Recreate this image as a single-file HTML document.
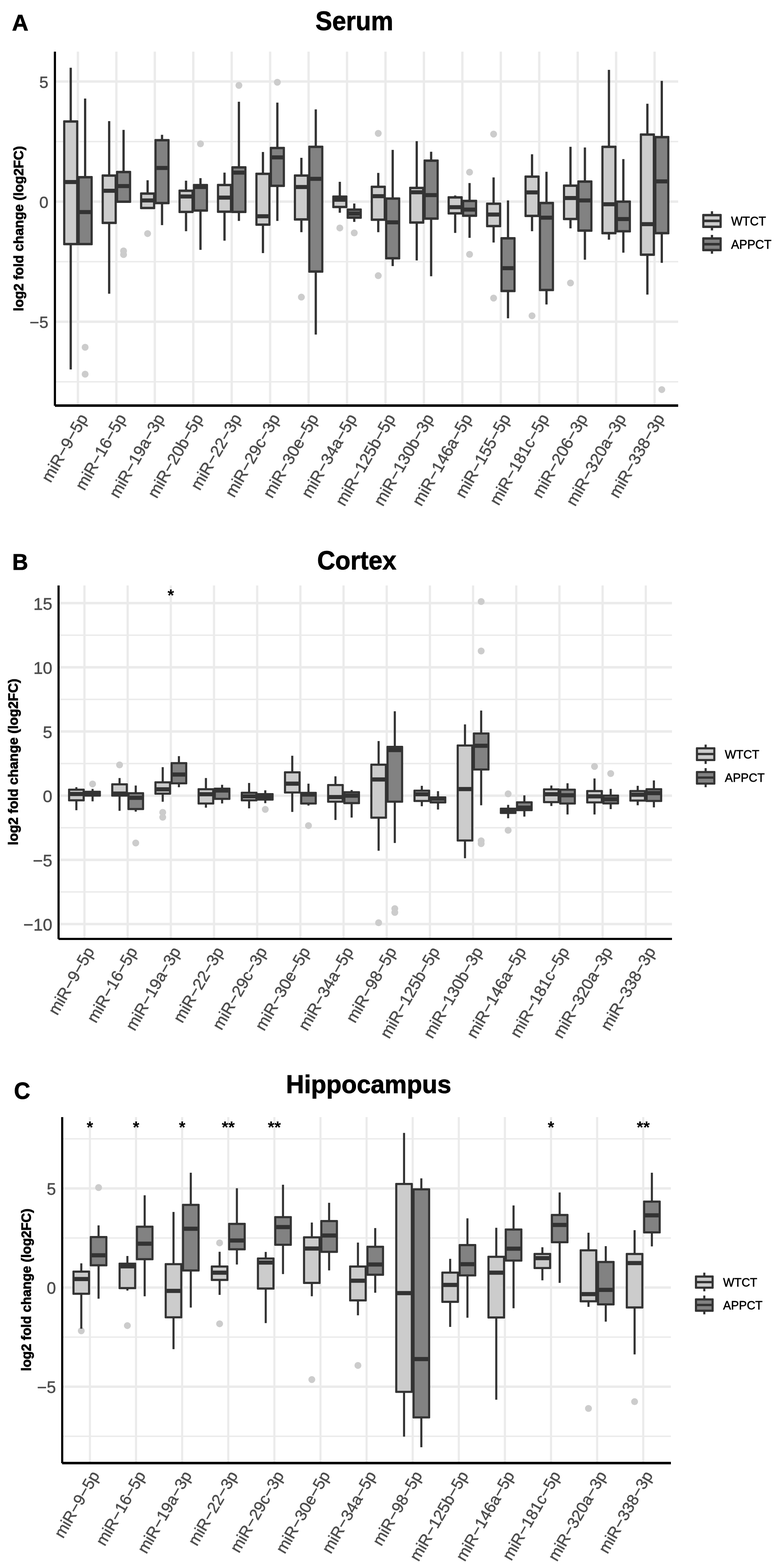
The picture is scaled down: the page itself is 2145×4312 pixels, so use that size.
<!DOCTYPE html>
<html><head><meta charset="utf-8"><title>miRNA log2 fold change box plots</title>
<style>html,body{margin:0;padding:0;background:#fff;width:2145px;height:4312px;}svg{display:block;}</style></head>
<body>
<svg width="2145" height="4312" viewBox="0 0 2145 4312" font-family='"Liberation Sans", Arial, Helvetica, sans-serif'>
<rect width="2145" height="4312" fill="#fff"/>
<g fill="#ebebeb"><rect x="154" y="387.4" width="1711" height="3.9"/><rect x="154" y="717.7" width="1711" height="3.9"/><rect x="154" y="1048" width="1711" height="3.9"/><rect x="154" y="220.8" width="1711" height="6.7"/><rect x="154" y="551.1" width="1711" height="6.7"/><rect x="154" y="881.4" width="1711" height="6.7"/><rect x="211.1" y="142" width="6.4" height="973.3"/><rect x="316.8" y="142" width="6.4" height="973.3"/><rect x="422.5" y="142" width="6.4" height="973.3"/><rect x="528.3" y="142" width="6.4" height="973.3"/><rect x="634" y="142" width="6.4" height="973.3"/><rect x="739.7" y="142" width="6.4" height="973.3"/><rect x="845.4" y="142" width="6.4" height="973.3"/><rect x="951.1" y="142" width="6.4" height="973.3"/><rect x="1056.9" y="142" width="6.4" height="973.3"/><rect x="1162.6" y="142" width="6.4" height="973.3"/><rect x="1268.3" y="142" width="6.4" height="973.3"/><rect x="1374" y="142" width="6.4" height="973.3"/><rect x="1479.7" y="142" width="6.4" height="973.3"/><rect x="1585.5" y="142" width="6.4" height="973.3"/><rect x="1691.2" y="142" width="6.4" height="973.3"/><rect x="1796.9" y="142" width="6.4" height="973.3"/></g>
<circle cx="234.1" cy="955" r="9.5" fill="#cccccc"/>
<circle cx="234.1" cy="1029" r="9.5" fill="#cccccc"/>
<rect x="191.4" y="186.3" width="6.2" height="147.8" fill="#333333"/>
<rect x="191.4" y="671.2" width="6.2" height="344.8" fill="#333333"/>
<rect x="173.6" y="330.8" width="41.7" height="343.7" rx="2" fill="#333333"/>
<rect x="179.6" y="337.4" width="29.7" height="330.5" fill="#cccccc"/>
<rect x="176.6" y="495" width="35.7" height="11.2" fill="#333333"/>
<rect x="231" y="271" width="6.2" height="216.4" fill="#333333"/>
<rect x="213.3" y="484.1" width="41.7" height="190.4" rx="2" fill="#333333"/>
<rect x="219.3" y="490.7" width="29.7" height="177.2" fill="#828282"/>
<rect x="216.3" y="577.6" width="35.7" height="11.2" fill="#333333"/>
<circle cx="339.8" cy="690" r="9.5" fill="#cccccc"/>
<circle cx="339.8" cy="700" r="9.5" fill="#cccccc"/>
<rect x="297.1" y="333.1" width="6.2" height="149.7" fill="#333333"/>
<rect x="297.1" y="612.9" width="6.2" height="194.8" fill="#333333"/>
<rect x="279.4" y="479.5" width="41.7" height="136.7" rx="2" fill="#333333"/>
<rect x="285.4" y="486.1" width="29.7" height="123.5" fill="#cccccc"/>
<rect x="282.4" y="519" width="35.7" height="11.2" fill="#333333"/>
<rect x="336.7" y="357.2" width="6.2" height="115.9" fill="#333333"/>
<rect x="319" y="469.8" width="41.7" height="88.2" rx="2" fill="#333333"/>
<rect x="325" y="476.4" width="29.7" height="75" fill="#828282"/>
<rect x="322" y="506.1" width="35.7" height="11.2" fill="#333333"/>
<circle cx="405.9" cy="642.4" r="9.5" fill="#cccccc"/>
<rect x="402.8" y="495.7" width="6.2" height="36.7" fill="#333333"/>
<rect x="385.1" y="529.1" width="41.7" height="46.2" rx="2" fill="#333333"/>
<rect x="391.1" y="535.7" width="29.7" height="33" fill="#cccccc"/>
<rect x="388.1" y="545.6" width="35.7" height="11.2" fill="#333333"/>
<rect x="442.5" y="370.7" width="6.2" height="14.9" fill="#333333"/>
<rect x="442.5" y="558.4" width="6.2" height="60.7" fill="#333333"/>
<rect x="424.7" y="382.3" width="41.7" height="179.4" rx="2" fill="#333333"/>
<rect x="430.7" y="388.9" width="29.7" height="166.2" fill="#828282"/>
<rect x="427.7" y="456.3" width="35.7" height="11.2" fill="#333333"/>
<circle cx="551.3" cy="395.5" r="9.5" fill="#cccccc"/>
<rect x="508.5" y="496.9" width="6.2" height="27.7" fill="#333333"/>
<rect x="508.5" y="582.8" width="6.2" height="53" fill="#333333"/>
<rect x="490.8" y="521.3" width="41.7" height="64.8" rx="2" fill="#333333"/>
<rect x="496.8" y="527.9" width="29.7" height="51.6" fill="#cccccc"/>
<rect x="493.8" y="534.7" width="35.7" height="11.2" fill="#333333"/>
<rect x="548.2" y="489.9" width="6.2" height="19.2" fill="#333333"/>
<rect x="548.2" y="579" width="6.2" height="108.1" fill="#333333"/>
<rect x="530.4" y="505.8" width="41.7" height="76.5" rx="2" fill="#333333"/>
<rect x="536.4" y="512.4" width="29.7" height="63.3" fill="#828282"/>
<rect x="533.4" y="508.7" width="35.7" height="11.2" fill="#333333"/>
<circle cx="657" cy="234.8" r="9.5" fill="#cccccc"/>
<rect x="614.3" y="474.7" width="6.2" height="34" fill="#333333"/>
<rect x="614.3" y="582.1" width="6.2" height="79.7" fill="#333333"/>
<rect x="596.5" y="505.4" width="41.7" height="80" rx="2" fill="#333333"/>
<rect x="602.5" y="512" width="29.7" height="66.8" fill="#cccccc"/>
<rect x="599.5" y="537.8" width="35.7" height="11.2" fill="#333333"/>
<rect x="653.9" y="279.8" width="6.2" height="180.4" fill="#333333"/>
<rect x="653.9" y="582.8" width="6.2" height="24.7" fill="#333333"/>
<rect x="636.2" y="456.9" width="41.7" height="129.2" rx="2" fill="#333333"/>
<rect x="642.2" y="463.5" width="29.7" height="116" fill="#828282"/>
<rect x="639.2" y="469.1" width="35.7" height="11.2" fill="#333333"/>
<circle cx="762.7" cy="226.3" r="9.5" fill="#cccccc"/>
<rect x="720" y="418" width="6.2" height="60" fill="#333333"/>
<rect x="720" y="617.8" width="6.2" height="78.2" fill="#333333"/>
<rect x="702.2" y="474.7" width="41.7" height="146.4" rx="2" fill="#333333"/>
<rect x="708.2" y="481.3" width="29.7" height="133.2" fill="#cccccc"/>
<rect x="705.2" y="589.1" width="35.7" height="11.2" fill="#333333"/>
<rect x="759.6" y="282.2" width="6.2" height="124.8" fill="#333333"/>
<rect x="759.6" y="511" width="6.2" height="96.5" fill="#333333"/>
<rect x="741.9" y="403.7" width="41.7" height="110.6" rx="2" fill="#333333"/>
<rect x="747.9" y="410.3" width="29.7" height="97.4" fill="#828282"/>
<rect x="744.9" y="427.2" width="35.7" height="11.2" fill="#333333"/>
<circle cx="828.8" cy="817.1" r="9.5" fill="#cccccc"/>
<rect x="825.7" y="434" width="6.2" height="48.7" fill="#333333"/>
<rect x="825.7" y="603.4" width="6.2" height="35.1" fill="#333333"/>
<rect x="808" y="479.4" width="41.7" height="127.3" rx="2" fill="#333333"/>
<rect x="814" y="486" width="29.7" height="114.1" fill="#cccccc"/>
<rect x="811" y="508.7" width="35.7" height="11.2" fill="#333333"/>
<rect x="865.3" y="300.8" width="6.2" height="103.1" fill="#333333"/>
<rect x="865.3" y="746.7" width="6.2" height="173.3" fill="#333333"/>
<rect x="847.6" y="400.6" width="41.7" height="349.4" rx="2" fill="#333333"/>
<rect x="853.6" y="407.2" width="29.7" height="336.2" fill="#828282"/>
<rect x="850.6" y="486.2" width="35.7" height="11.2" fill="#333333"/>
<circle cx="934.5" cy="626.9" r="9.5" fill="#cccccc"/>
<circle cx="974.2" cy="640.5" r="9.5" fill="#cccccc"/>
<rect x="931.4" y="500" width="6.2" height="40.9" fill="#333333"/>
<rect x="931.4" y="569.2" width="6.2" height="15.8" fill="#333333"/>
<rect x="913.7" y="537.6" width="41.7" height="34.9" rx="2" fill="#333333"/>
<rect x="919.7" y="544.2" width="29.7" height="21.7" fill="#cccccc"/>
<rect x="916.7" y="543.7" width="35.7" height="11.2" fill="#333333"/>
<rect x="971.1" y="559.7" width="6.2" height="16.9" fill="#333333"/>
<rect x="971.1" y="598.4" width="6.2" height="11.8" fill="#333333"/>
<rect x="953.3" y="573.3" width="41.7" height="28.4" rx="2" fill="#333333"/>
<rect x="959.3" y="579.9" width="29.7" height="15.2" fill="#828282"/>
<rect x="956.3" y="581.7" width="35.7" height="11.2" fill="#333333"/>
<circle cx="1040.2" cy="366.8" r="9.5" fill="#cccccc"/>
<circle cx="1040.2" cy="758.1" r="9.5" fill="#cccccc"/>
<rect x="1037.1" y="475.5" width="6.2" height="38.2" fill="#333333"/>
<rect x="1037.1" y="604.2" width="6.2" height="34.3" fill="#333333"/>
<rect x="1019.4" y="510.4" width="41.7" height="97.1" rx="2" fill="#333333"/>
<rect x="1025.4" y="517" width="29.7" height="83.9" fill="#cccccc"/>
<rect x="1022.4" y="533.9" width="35.7" height="11.2" fill="#333333"/>
<rect x="1076.8" y="412.2" width="6.2" height="133.8" fill="#333333"/>
<rect x="1076.8" y="710.2" width="6.2" height="21.5" fill="#333333"/>
<rect x="1059" y="542.7" width="41.7" height="170.8" rx="2" fill="#333333"/>
<rect x="1065" y="549.3" width="29.7" height="157.6" fill="#828282"/>
<rect x="1062" y="605.8" width="35.7" height="11.2" fill="#333333"/>
<rect x="1142.9" y="388.2" width="6.2" height="128.6" fill="#333333"/>
<rect x="1142.9" y="611.9" width="6.2" height="104.3" fill="#333333"/>
<rect x="1125.1" y="513.5" width="41.7" height="101.7" rx="2" fill="#333333"/>
<rect x="1131.1" y="520.1" width="29.7" height="88.5" fill="#cccccc"/>
<rect x="1128.1" y="523.1" width="35.7" height="11.2" fill="#333333"/>
<rect x="1182.5" y="417.3" width="6.2" height="24.6" fill="#333333"/>
<rect x="1182.5" y="601.1" width="6.2" height="158.6" fill="#333333"/>
<rect x="1164.8" y="438.6" width="41.7" height="165.8" rx="2" fill="#333333"/>
<rect x="1170.8" y="445.2" width="29.7" height="152.6" fill="#828282"/>
<rect x="1167.8" y="530.9" width="35.7" height="11.2" fill="#333333"/>
<circle cx="1291.3" cy="473.6" r="9.5" fill="#cccccc"/>
<circle cx="1291.3" cy="699.5" r="9.5" fill="#cccccc"/>
<rect x="1248.6" y="537.6" width="6.2" height="5.3" fill="#333333"/>
<rect x="1248.6" y="586.7" width="6.2" height="53.8" fill="#333333"/>
<rect x="1230.8" y="539.6" width="41.7" height="50.4" rx="2" fill="#333333"/>
<rect x="1236.8" y="546.2" width="29.7" height="37.2" fill="#cccccc"/>
<rect x="1233.8" y="564.2" width="35.7" height="11.2" fill="#333333"/>
<rect x="1288.2" y="503.4" width="6.2" height="49.2" fill="#333333"/>
<rect x="1288.2" y="593.3" width="6.2" height="60.7" fill="#333333"/>
<rect x="1270.5" y="549.3" width="41.7" height="47.3" rx="2" fill="#333333"/>
<rect x="1276.5" y="555.9" width="29.7" height="34.1" fill="#828282"/>
<rect x="1273.5" y="570.8" width="35.7" height="11.2" fill="#333333"/>
<circle cx="1357.4" cy="368.7" r="9.5" fill="#cccccc"/>
<circle cx="1357.4" cy="819.8" r="9.5" fill="#cccccc"/>
<rect x="1354.3" y="487.9" width="6.2" height="72.4" fill="#333333"/>
<rect x="1354.3" y="621.7" width="6.2" height="45.2" fill="#333333"/>
<rect x="1336.6" y="557" width="41.7" height="68" rx="2" fill="#333333"/>
<rect x="1342.6" y="563.6" width="29.7" height="54.8" fill="#cccccc"/>
<rect x="1339.6" y="584.4" width="35.7" height="11.2" fill="#333333"/>
<rect x="1393.9" y="551.2" width="6.2" height="104.2" fill="#333333"/>
<rect x="1393.9" y="800.2" width="6.2" height="75.1" fill="#333333"/>
<rect x="1376.2" y="652.1" width="41.7" height="151.4" rx="2" fill="#333333"/>
<rect x="1382.2" y="658.7" width="29.7" height="138.2" fill="#828282"/>
<rect x="1379.2" y="731.9" width="35.7" height="11.2" fill="#333333"/>
<circle cx="1463.1" cy="868.4" r="9.5" fill="#cccccc"/>
<rect x="1460" y="424.3" width="6.2" height="61.5" fill="#333333"/>
<rect x="1460" y="593.7" width="6.2" height="42.1" fill="#333333"/>
<rect x="1442.3" y="482.5" width="41.7" height="114.5" rx="2" fill="#333333"/>
<rect x="1448.3" y="489.1" width="29.7" height="101.3" fill="#cccccc"/>
<rect x="1445.3" y="523.5" width="35.7" height="11.2" fill="#333333"/>
<rect x="1499.7" y="472.4" width="6.2" height="86" fill="#333333"/>
<rect x="1499.7" y="797.5" width="6.2" height="39.8" fill="#333333"/>
<rect x="1481.9" y="555.1" width="41.7" height="245.7" rx="2" fill="#333333"/>
<rect x="1487.9" y="561.7" width="29.7" height="232.5" fill="#828282"/>
<rect x="1484.9" y="593" width="35.7" height="11.2" fill="#333333"/>
<circle cx="1568.8" cy="778.3" r="9.5" fill="#cccccc"/>
<rect x="1565.7" y="403.7" width="6.2" height="106.9" fill="#333333"/>
<rect x="1565.7" y="602.2" width="6.2" height="25.8" fill="#333333"/>
<rect x="1548" y="507.3" width="41.7" height="98.2" rx="2" fill="#333333"/>
<rect x="1554" y="513.9" width="29.7" height="85" fill="#cccccc"/>
<rect x="1551" y="539" width="35.7" height="11.2" fill="#333333"/>
<rect x="1605.4" y="405.6" width="6.2" height="93.8" fill="#333333"/>
<rect x="1605.4" y="634.1" width="6.2" height="80.1" fill="#333333"/>
<rect x="1587.6" y="496.1" width="41.7" height="141.3" rx="2" fill="#333333"/>
<rect x="1593.6" y="502.7" width="29.7" height="128.1" fill="#828282"/>
<rect x="1590.6" y="545.6" width="35.7" height="11.2" fill="#333333"/>
<rect x="1671.5" y="192.1" width="6.2" height="211.8" fill="#333333"/>
<rect x="1671.5" y="641.1" width="6.2" height="18" fill="#333333"/>
<rect x="1653.7" y="400.6" width="41.7" height="243.8" rx="2" fill="#333333"/>
<rect x="1659.7" y="407.2" width="29.7" height="230.6" fill="#cccccc"/>
<rect x="1656.7" y="556.1" width="35.7" height="11.2" fill="#333333"/>
<rect x="1711.1" y="437.5" width="6.2" height="117" fill="#333333"/>
<rect x="1711.1" y="636" width="6.2" height="58.8" fill="#333333"/>
<rect x="1693.4" y="551.2" width="41.7" height="88.1" rx="2" fill="#333333"/>
<rect x="1699.4" y="557.8" width="29.7" height="74.9" fill="#828282"/>
<rect x="1696.4" y="596.8" width="35.7" height="11.2" fill="#333333"/>
<circle cx="1819.9" cy="1071.4" r="9.5" fill="#cccccc"/>
<rect x="1777.2" y="285.3" width="6.2" height="84.8" fill="#333333"/>
<rect x="1777.2" y="700.4" width="6.2" height="109.7" fill="#333333"/>
<rect x="1759.4" y="366.8" width="41.7" height="336.9" rx="2" fill="#333333"/>
<rect x="1765.4" y="373.4" width="29.7" height="323.7" fill="#cccccc"/>
<rect x="1762.4" y="610.8" width="35.7" height="11.2" fill="#333333"/>
<rect x="1816.8" y="222.4" width="6.2" height="154.7" fill="#333333"/>
<rect x="1816.8" y="641.1" width="6.2" height="81.7" fill="#333333"/>
<rect x="1799.1" y="373.8" width="41.7" height="270.6" rx="2" fill="#333333"/>
<rect x="1805.1" y="380.4" width="29.7" height="257.4" fill="#828282"/>
<rect x="1802.1" y="493.2" width="35.7" height="11.2" fill="#333333"/>
<rect x="148" y="142" width="6" height="973.8" fill="#000"/>
<rect x="151" y="1111.9" width="1714" height="6.9" fill="#000"/>
<g fill="#4d4d4d" stroke="#4d4d4d" stroke-width="0.8" font-size="45.1" text-anchor="end"><text x="133" y="241.8">5</text><text x="133" y="572.1">0</text><text x="133" y="902.4">−5</text></g>
<g fill="#4d4d4d" stroke="#4d4d4d" stroke-width="0.8" font-size="45" text-anchor="end"><text transform="translate(242.7 1149.6) rotate(-60)">miR−9−5p</text><text transform="translate(348.4 1149.6) rotate(-60)">miR−16−5p</text><text transform="translate(454.1 1149.6) rotate(-60)">miR−19a−3p</text><text transform="translate(559.9 1149.6) rotate(-60)">miR−20b−5p</text><text transform="translate(665.6 1149.6) rotate(-60)">miR−22−3p</text><text transform="translate(771.3 1149.6) rotate(-60)">miR−29c−3p</text><text transform="translate(877 1149.6) rotate(-60)">miR−30e−5p</text><text transform="translate(982.7 1149.6) rotate(-60)">miR−34a−5p</text><text transform="translate(1088.5 1149.6) rotate(-60)">miR−125b−5p</text><text transform="translate(1194.2 1149.6) rotate(-60)">miR−130b−3p</text><text transform="translate(1299.9 1149.6) rotate(-60)">miR−146a−5p</text><text transform="translate(1405.6 1149.6) rotate(-60)">miR−155−5p</text><text transform="translate(1511.3 1149.6) rotate(-60)">miR−181c−5p</text><text transform="translate(1617.1 1149.6) rotate(-60)">miR−206−3p</text><text transform="translate(1722.8 1149.6) rotate(-60)">miR−320a−3p</text><text transform="translate(1828.5 1149.6) rotate(-60)">miR−338−3p</text></g>
<rect x="1954.8" y="581" width="6.2" height="10.6" fill="#333333"/>
<rect x="1954.8" y="623.7" width="6.2" height="9.9" fill="#333333"/>
<rect x="1931.1" y="588.3" width="53.6" height="38.7" rx="2" fill="#333333"/>
<rect x="1937.1" y="594.9" width="41.6" height="25.5" fill="#cccccc"/>
<rect x="1934.1" y="603.9" width="47.6" height="7.1" fill="#333333"/>
<text transform="translate(2010.5 619.7) scale(0.965 1)" font-size="34.5" fill="#000" stroke="#000" stroke-width="0.8">WTCT</text>
<rect x="1954.8" y="646" width="6.2" height="9.7" fill="#333333"/>
<rect x="1954.8" y="687.7" width="6.2" height="10" fill="#333333"/>
<rect x="1931.1" y="652.4" width="53.6" height="38.6" rx="2" fill="#333333"/>
<rect x="1937.1" y="659" width="41.6" height="25.4" fill="#828282"/>
<rect x="1934.1" y="668" width="47.6" height="7.1" fill="#333333"/>
<text transform="translate(2010.5 683.7) scale(0.965 1)" font-size="34.5" fill="#000" stroke="#000" stroke-width="0.8">APPCT</text>
<g fill="#ebebeb"><rect x="163.9" y="1744.8" width="1684" height="4"/><rect x="163.9" y="1921.3" width="1684" height="4"/><rect x="163.9" y="2097.8" width="1684" height="4"/><rect x="163.9" y="2274.3" width="1684" height="4"/><rect x="163.9" y="2450.8" width="1684" height="4"/><rect x="163.9" y="1655.1" width="1684" height="6.9"/><rect x="163.9" y="1831.6" width="1684" height="6.9"/><rect x="163.9" y="2008.1" width="1684" height="6.9"/><rect x="163.9" y="2184.7" width="1684" height="6.9"/><rect x="163.9" y="2361.2" width="1684" height="6.9"/><rect x="163.9" y="2537.7" width="1684" height="6.9"/><rect x="229.2" y="1610" width="6.1" height="972"/><rect x="348" y="1610" width="6.1" height="972"/><rect x="466.7" y="1610" width="6.1" height="972"/><rect x="585.5" y="1610" width="6.1" height="972"/><rect x="704.2" y="1610" width="6.1" height="972"/><rect x="823" y="1610" width="6.1" height="972"/><rect x="941.7" y="1610" width="6.1" height="972"/><rect x="1060.4" y="1610" width="6.1" height="972"/><rect x="1179.2" y="1610" width="6.1" height="972"/><rect x="1297.9" y="1610" width="6.1" height="972"/><rect x="1416.6" y="1610" width="6.1" height="972"/><rect x="1535.4" y="1610" width="6.1" height="972"/><rect x="1654.1" y="1610" width="6.1" height="972"/><rect x="1772.9" y="1610" width="6.1" height="972"/></g>
<circle cx="254.6" cy="2155.9" r="9.5" fill="#cccccc"/>
<rect x="207.1" y="2164.8" width="5.8" height="6.8" fill="#333333"/>
<rect x="207.1" y="2200.8" width="5.8" height="27.3" fill="#333333"/>
<rect x="187.1" y="2168.7" width="45.9" height="35" rx="2" fill="#333333"/>
<rect x="192.9" y="2174.5" width="34.3" height="23.4" fill="#cccccc"/>
<rect x="190" y="2177.8" width="40.1" height="11.5" fill="#333333"/>
<rect x="251.7" y="2169.5" width="5.8" height="7.9" fill="#333333"/>
<rect x="251.7" y="2187.9" width="5.8" height="15.8" fill="#333333"/>
<rect x="231.6" y="2174.5" width="45.9" height="16.3" rx="2" fill="#333333"/>
<rect x="237.4" y="2180.3" width="34.3" height="4.7" fill="#828282"/>
<rect x="234.5" y="2176.6" width="40.1" height="11.5" fill="#333333"/>
<circle cx="328.8" cy="2103.5" r="9.5" fill="#cccccc"/>
<circle cx="373.3" cy="2318.2" r="9.5" fill="#cccccc"/>
<rect x="325.9" y="2139.6" width="5.8" height="17.3" fill="#333333"/>
<rect x="325.9" y="2187.9" width="5.8" height="41.8" fill="#333333"/>
<rect x="305.8" y="2154" width="45.9" height="36.8" rx="2" fill="#333333"/>
<rect x="311.6" y="2159.8" width="34.3" height="25.2" fill="#cccccc"/>
<rect x="308.7" y="2176.6" width="40.1" height="11.5" fill="#333333"/>
<rect x="370.4" y="2160.2" width="5.8" height="21.1" fill="#333333"/>
<rect x="370.4" y="2224.8" width="5.8" height="7.2" fill="#333333"/>
<rect x="350.4" y="2178.4" width="45.9" height="49.3" rx="2" fill="#333333"/>
<rect x="356.2" y="2184.2" width="34.3" height="37.7" fill="#828282"/>
<rect x="353.3" y="2188.2" width="40.1" height="11.5" fill="#333333"/>
<circle cx="447.5" cy="2233.9" r="9.5" fill="#cccccc"/>
<circle cx="447.5" cy="2247.5" r="9.5" fill="#cccccc"/>
<rect x="444.6" y="2109.7" width="5.8" height="41.7" fill="#333333"/>
<rect x="444.6" y="2182.5" width="5.8" height="22.3" fill="#333333"/>
<rect x="424.6" y="2148.5" width="45.9" height="36.9" rx="2" fill="#333333"/>
<rect x="430.4" y="2154.3" width="34.3" height="25.3" fill="#cccccc"/>
<rect x="427.5" y="2164.9" width="40.1" height="11.5" fill="#333333"/>
<rect x="489.1" y="2079.4" width="5.8" height="19.2" fill="#333333"/>
<rect x="489.1" y="2154.2" width="5.8" height="10.6" fill="#333333"/>
<rect x="469.1" y="2095.7" width="45.9" height="61.4" rx="2" fill="#333333"/>
<rect x="474.9" y="2101.5" width="34.3" height="49.8" fill="#828282"/>
<rect x="472" y="2124.2" width="40.1" height="11.5" fill="#333333"/>
<rect x="563.4" y="2139.6" width="5.8" height="30.8" fill="#333333"/>
<rect x="563.4" y="2209.7" width="5.8" height="11.4" fill="#333333"/>
<rect x="543.3" y="2167.5" width="45.9" height="45.1" rx="2" fill="#333333"/>
<rect x="549.1" y="2173.3" width="34.3" height="33.5" fill="#cccccc"/>
<rect x="546.2" y="2178.4" width="40.1" height="11.5" fill="#333333"/>
<rect x="607.9" y="2158.2" width="5.8" height="10.7" fill="#333333"/>
<rect x="607.9" y="2196.9" width="5.8" height="12.6" fill="#333333"/>
<rect x="587.8" y="2166" width="45.9" height="33.8" rx="2" fill="#333333"/>
<rect x="593.6" y="2171.8" width="34.3" height="22.2" fill="#828282"/>
<rect x="590.7" y="2168.1" width="40.1" height="11.5" fill="#333333"/>
<circle cx="729.5" cy="2225.8" r="9.5" fill="#cccccc"/>
<rect x="682.1" y="2153.2" width="5.8" height="27" fill="#333333"/>
<rect x="682.1" y="2200.8" width="5.8" height="22.2" fill="#333333"/>
<rect x="662.1" y="2177.3" width="45.9" height="26.4" rx="2" fill="#333333"/>
<rect x="667.9" y="2183.1" width="34.3" height="14.8" fill="#cccccc"/>
<rect x="665" y="2184.2" width="40.1" height="11.5" fill="#333333"/>
<rect x="726.6" y="2173.4" width="5.8" height="10.6" fill="#333333"/>
<rect x="726.6" y="2198.8" width="5.8" height="9.9" fill="#333333"/>
<rect x="706.6" y="2181.1" width="45.9" height="20.6" rx="2" fill="#333333"/>
<rect x="712.4" y="2186.9" width="34.3" height="9" fill="#828282"/>
<rect x="709.5" y="2186.2" width="40.1" height="11.5" fill="#333333"/>
<circle cx="848.3" cy="2270.4" r="9.5" fill="#cccccc"/>
<rect x="800.8" y="2078.3" width="5.8" height="45.6" fill="#333333"/>
<rect x="800.8" y="2179.4" width="5.8" height="53.4" fill="#333333"/>
<rect x="780.8" y="2121" width="45.9" height="61.3" rx="2" fill="#333333"/>
<rect x="786.6" y="2126.8" width="34.3" height="49.7" fill="#cccccc"/>
<rect x="783.7" y="2149.3" width="40.1" height="11.5" fill="#333333"/>
<rect x="845.4" y="2155.1" width="5.8" height="25.4" fill="#333333"/>
<rect x="845.4" y="2209.7" width="5.8" height="5.6" fill="#333333"/>
<rect x="825.3" y="2177.6" width="45.9" height="35" rx="2" fill="#333333"/>
<rect x="831.1" y="2183.4" width="34.3" height="23.4" fill="#828282"/>
<rect x="828.2" y="2179.2" width="40.1" height="11.5" fill="#333333"/>
<rect x="919.6" y="2134.9" width="5.8" height="23.9" fill="#333333"/>
<rect x="919.6" y="2204.6" width="5.8" height="50.3" fill="#333333"/>
<rect x="899.5" y="2155.9" width="45.9" height="51.6" rx="2" fill="#333333"/>
<rect x="905.3" y="2161.7" width="34.3" height="40" fill="#cccccc"/>
<rect x="902.4" y="2186.2" width="40.1" height="11.5" fill="#333333"/>
<rect x="964.1" y="2172.6" width="5.8" height="6" fill="#333333"/>
<rect x="964.1" y="2208.5" width="5.8" height="39.8" fill="#333333"/>
<rect x="944.1" y="2175.7" width="45.9" height="35.7" rx="2" fill="#333333"/>
<rect x="949.9" y="2181.5" width="34.3" height="24.1" fill="#828282"/>
<rect x="947" y="2182.3" width="40.1" height="11.5" fill="#333333"/>
<circle cx="1041.2" cy="2537.5" r="9.5" fill="#cccccc"/>
<circle cx="1085.7" cy="2498.7" r="9.5" fill="#cccccc"/>
<circle cx="1085.7" cy="2509.2" r="9.5" fill="#cccccc"/>
<rect x="1038.3" y="2037.9" width="5.8" height="65" fill="#333333"/>
<rect x="1038.3" y="2248.5" width="5.8" height="91" fill="#333333"/>
<rect x="1018.3" y="2100" width="45.9" height="151.4" rx="2" fill="#333333"/>
<rect x="1024.1" y="2105.8" width="34.3" height="139.8" fill="#cccccc"/>
<rect x="1021.2" y="2137.8" width="40.1" height="11.5" fill="#333333"/>
<rect x="1082.8" y="1956" width="5.8" height="98" fill="#333333"/>
<rect x="1082.8" y="2204.6" width="5.8" height="113.6" fill="#333333"/>
<rect x="1062.8" y="2051.1" width="45.9" height="156.4" rx="2" fill="#333333"/>
<rect x="1068.6" y="2056.9" width="34.3" height="144.8" fill="#828282"/>
<rect x="1065.7" y="2056.9" width="40.1" height="11.5" fill="#333333"/>
<rect x="1157.1" y="2161" width="5.8" height="13.3" fill="#333333"/>
<rect x="1157.1" y="2202.7" width="5.8" height="14.5" fill="#333333"/>
<rect x="1137" y="2171.4" width="45.9" height="34.2" rx="2" fill="#333333"/>
<rect x="1142.8" y="2177.2" width="34.3" height="22.6" fill="#cccccc"/>
<rect x="1139.9" y="2178.4" width="40.1" height="11.5" fill="#333333"/>
<rect x="1201.6" y="2175.7" width="5.8" height="17.2" fill="#333333"/>
<rect x="1201.6" y="2206.6" width="5.8" height="19.6" fill="#333333"/>
<rect x="1181.5" y="2190" width="45.9" height="19.5" rx="2" fill="#333333"/>
<rect x="1187.3" y="2195.8" width="34.3" height="7.9" fill="#828282"/>
<rect x="1184.4" y="2190.2" width="40.1" height="11.5" fill="#333333"/>
<circle cx="1323.2" cy="1654.3" r="9.5" fill="#cccccc"/>
<circle cx="1323.2" cy="1790.2" r="9.5" fill="#cccccc"/>
<circle cx="1323.2" cy="2312.3" r="9.5" fill="#cccccc"/>
<circle cx="1323.2" cy="2320.1" r="9.5" fill="#cccccc"/>
<rect x="1275.8" y="1992.1" width="5.8" height="58" fill="#333333"/>
<rect x="1275.8" y="2311.4" width="5.8" height="48.7" fill="#333333"/>
<rect x="1255.8" y="2047.2" width="45.9" height="267.1" rx="2" fill="#333333"/>
<rect x="1261.6" y="2053" width="34.3" height="255.5" fill="#cccccc"/>
<rect x="1258.7" y="2164.2" width="40.1" height="11.5" fill="#333333"/>
<rect x="1320.3" y="1954" width="5.8" height="63.1" fill="#333333"/>
<rect x="1320.3" y="2116.1" width="5.8" height="98.4" fill="#333333"/>
<rect x="1300.3" y="2014.2" width="45.9" height="104.8" rx="2" fill="#333333"/>
<rect x="1306.1" y="2020" width="34.3" height="93.2" fill="#828282"/>
<rect x="1303.2" y="2045.1" width="40.1" height="11.5" fill="#333333"/>
<circle cx="1397.4" cy="2183.1" r="9.5" fill="#cccccc"/>
<circle cx="1397.4" cy="2283.2" r="9.5" fill="#cccccc"/>
<rect x="1394.5" y="2213.4" width="5.8" height="10.6" fill="#333333"/>
<rect x="1394.5" y="2235.7" width="5.8" height="14.5" fill="#333333"/>
<rect x="1374.5" y="2221.1" width="45.9" height="17.5" rx="2" fill="#333333"/>
<rect x="1380.3" y="2226.9" width="34.3" height="5.9" fill="#cccccc"/>
<rect x="1377.4" y="2225.1" width="40.1" height="11.5" fill="#333333"/>
<rect x="1439.1" y="2187.3" width="5.8" height="19.2" fill="#333333"/>
<rect x="1439.1" y="2227.9" width="5.8" height="17.7" fill="#333333"/>
<rect x="1419" y="2203.6" width="45.9" height="27.2" rx="2" fill="#333333"/>
<rect x="1424.8" y="2209.4" width="34.3" height="15.6" fill="#828282"/>
<rect x="1421.9" y="2215.3" width="40.1" height="11.5" fill="#333333"/>
<rect x="1513.3" y="2160.2" width="5.8" height="10.6" fill="#333333"/>
<rect x="1513.3" y="2205.8" width="5.8" height="10.7" fill="#333333"/>
<rect x="1493.2" y="2167.9" width="45.9" height="40.8" rx="2" fill="#333333"/>
<rect x="1499" y="2173.7" width="34.3" height="29.2" fill="#cccccc"/>
<rect x="1496.1" y="2178.4" width="40.1" height="11.5" fill="#333333"/>
<rect x="1557.8" y="2154" width="5.8" height="17.6" fill="#333333"/>
<rect x="1557.8" y="2209.7" width="5.8" height="30.1" fill="#333333"/>
<rect x="1537.8" y="2168.7" width="45.9" height="43.9" rx="2" fill="#333333"/>
<rect x="1543.6" y="2174.5" width="34.3" height="32.3" fill="#828282"/>
<rect x="1540.7" y="2181.2" width="40.1" height="11.5" fill="#333333"/>
<circle cx="1634.9" cy="2107.8" r="9.5" fill="#cccccc"/>
<circle cx="1679.4" cy="2127.2" r="9.5" fill="#cccccc"/>
<rect x="1632" y="2140.8" width="5.8" height="34.7" fill="#333333"/>
<rect x="1632" y="2206.6" width="5.8" height="33.2" fill="#333333"/>
<rect x="1612" y="2172.6" width="45.9" height="36.9" rx="2" fill="#333333"/>
<rect x="1617.8" y="2178.4" width="34.3" height="25.3" fill="#cccccc"/>
<rect x="1614.9" y="2184.2" width="40.1" height="11.5" fill="#333333"/>
<rect x="1676.5" y="2169.5" width="5.8" height="18.4" fill="#333333"/>
<rect x="1676.5" y="2209.3" width="5.8" height="15.7" fill="#333333"/>
<rect x="1656.5" y="2185" width="45.9" height="27.2" rx="2" fill="#333333"/>
<rect x="1662.3" y="2190.8" width="34.3" height="15.6" fill="#828282"/>
<rect x="1659.4" y="2192.1" width="40.1" height="11.5" fill="#333333"/>
<rect x="1750.8" y="2161" width="5.8" height="14.5" fill="#333333"/>
<rect x="1750.8" y="2201.5" width="5.8" height="13" fill="#333333"/>
<rect x="1730.7" y="2172.6" width="45.9" height="31.8" rx="2" fill="#333333"/>
<rect x="1736.5" y="2178.4" width="34.3" height="20.2" fill="#cccccc"/>
<rect x="1733.6" y="2179.7" width="40.1" height="11.5" fill="#333333"/>
<rect x="1795.3" y="2146.2" width="5.8" height="24.2" fill="#333333"/>
<rect x="1795.3" y="2202.7" width="5.8" height="17.6" fill="#333333"/>
<rect x="1775.2" y="2167.5" width="45.9" height="38.1" rx="2" fill="#333333"/>
<rect x="1781" y="2173.3" width="34.3" height="26.5" fill="#828282"/>
<rect x="1778.1" y="2175.3" width="40.1" height="11.5" fill="#333333"/>
<rect x="158.1" y="1610" width="5.9" height="972.4" fill="#000"/>
<rect x="161" y="2579.1" width="1687" height="5.9" fill="#000"/>
<g fill="#4d4d4d" stroke="#4d4d4d" stroke-width="0.8" font-size="47.0" text-anchor="end"><text x="144" y="1676.5">15</text><text x="144" y="1853">10</text><text x="144" y="2029.5">5</text><text x="144" y="2206">0</text><text x="144" y="2382.5">−5</text><text x="144" y="2559">−10</text></g>
<g fill="#4d4d4d" stroke="#4d4d4d" stroke-width="0.8" font-size="44.7" text-anchor="end"><text transform="translate(260.6 2615.7) rotate(-60)">miR−9−5p</text><text transform="translate(379.3 2615.7) rotate(-60)">miR−16−5p</text><text transform="translate(498.1 2615.7) rotate(-60)">miR−19a−3p</text><text transform="translate(616.8 2615.7) rotate(-60)">miR−22−3p</text><text transform="translate(735.6 2615.7) rotate(-60)">miR−29c−3p</text><text transform="translate(854.3 2615.7) rotate(-60)">miR−30e−5p</text><text transform="translate(973 2615.7) rotate(-60)">miR−34a−5p</text><text transform="translate(1091.8 2615.7) rotate(-60)">miR−98−5p</text><text transform="translate(1210.5 2615.7) rotate(-60)">miR−125b−5p</text><text transform="translate(1329.3 2615.7) rotate(-60)">miR−130b−3p</text><text transform="translate(1448 2615.7) rotate(-60)">miR−146a−5p</text><text transform="translate(1566.7 2615.7) rotate(-60)">miR−181c−5p</text><text transform="translate(1685.5 2615.7) rotate(-60)">miR−320a−3p</text><text transform="translate(1804.2 2615.7) rotate(-60)">miR−338−3p</text></g>
<g fill="#000" font-size="46" font-weight="bold" text-anchor="middle"><text x="469.8" y="1653">*</text></g>
<rect x="1937.6" y="2047.6" width="5.8" height="10.3" fill="#333333"/>
<rect x="1937.6" y="2090.1" width="5.8" height="10.7" fill="#333333"/>
<rect x="1913.7" y="2055" width="53.6" height="38" rx="2" fill="#333333"/>
<rect x="1919.5" y="2060.8" width="42" height="26.4" fill="#cccccc"/>
<rect x="1916.6" y="2070.4" width="47.8" height="6.3" fill="#333333"/>
<text transform="translate(1993.3 2086.3) scale(0.98 1)" font-size="33.5" fill="#000" stroke="#000" stroke-width="0.8">WTCT</text>
<rect x="1937.6" y="2112.4" width="5.8" height="10.7" fill="#333333"/>
<rect x="1937.6" y="2154.9" width="5.8" height="9.9" fill="#333333"/>
<rect x="1913.7" y="2120.2" width="53.6" height="37.6" rx="2" fill="#333333"/>
<rect x="1919.5" y="2126" width="42" height="26" fill="#828282"/>
<rect x="1916.6" y="2135.2" width="47.8" height="6.3" fill="#333333"/>
<text transform="translate(1993.3 2150) scale(0.98 1)" font-size="33.5" fill="#000" stroke="#000" stroke-width="0.8">APPCT</text>
<g fill="#ebebeb"><rect x="173.9" y="3129.8" width="1671" height="3.9"/><rect x="173.9" y="3402.5" width="1671" height="3.9"/><rect x="173.9" y="3675.1" width="1671" height="3.9"/><rect x="173.9" y="3947.8" width="1671" height="3.9"/><rect x="173.9" y="3264.8" width="1671" height="6.6"/><rect x="173.9" y="3537.4" width="1671" height="6.6"/><rect x="173.9" y="3810.1" width="1671" height="6.6"/><rect x="244.4" y="3072" width="5.8" height="951.4"/><rect x="371.2" y="3072" width="5.8" height="951.4"/><rect x="498" y="3072" width="5.8" height="951.4"/><rect x="624.8" y="3072" width="5.8" height="951.4"/><rect x="751.6" y="3072" width="5.8" height="951.4"/><rect x="878.4" y="3072" width="5.8" height="951.4"/><rect x="1005.2" y="3072" width="5.8" height="951.4"/><rect x="1132" y="3072" width="5.8" height="951.4"/><rect x="1258.8" y="3072" width="5.8" height="951.4"/><rect x="1385.6" y="3072" width="5.8" height="951.4"/><rect x="1512.4" y="3072" width="5.8" height="951.4"/><rect x="1639.2" y="3072" width="5.8" height="951.4"/><rect x="1766" y="3072" width="5.8" height="951.4"/></g>
<circle cx="223.5" cy="3659.8" r="9.5" fill="#cccccc"/>
<circle cx="271.1" cy="3265.7" r="9.5" fill="#cccccc"/>
<rect x="220.7" y="3474.2" width="5.7" height="22.8" fill="#333333"/>
<rect x="220.7" y="3557.9" width="5.7" height="96" fill="#333333"/>
<rect x="199.2" y="3494" width="48.6" height="66.8" rx="2" fill="#333333"/>
<rect x="205" y="3499.9" width="37" height="55" fill="#cccccc"/>
<rect x="202.1" y="3511.6" width="42.8" height="11.5" fill="#333333"/>
<rect x="268.2" y="3369.8" width="5.7" height="32" fill="#333333"/>
<rect x="268.2" y="3479.5" width="5.7" height="91.9" fill="#333333"/>
<rect x="246.8" y="3398.9" width="48.6" height="83.5" rx="2" fill="#333333"/>
<rect x="252.6" y="3404.8" width="37" height="71.7" fill="#828282"/>
<rect x="249.7" y="3446.3" width="42.8" height="11.5" fill="#333333"/>
<circle cx="350.3" cy="3645.4" r="9.5" fill="#cccccc"/>
<rect x="347.5" y="3454" width="5.7" height="21.2" fill="#333333"/>
<rect x="347.5" y="3542.2" width="5.7" height="6.9" fill="#333333"/>
<rect x="326" y="3472.3" width="48.6" height="72.9" rx="2" fill="#333333"/>
<rect x="331.8" y="3478.2" width="37" height="61.1" fill="#cccccc"/>
<rect x="328.9" y="3476.7" width="42.8" height="11.5" fill="#333333"/>
<rect x="395" y="3287.1" width="5.7" height="86.4" fill="#333333"/>
<rect x="395" y="3462.8" width="5.7" height="102" fill="#333333"/>
<rect x="373.6" y="3370.6" width="48.6" height="95.1" rx="2" fill="#333333"/>
<rect x="379.4" y="3376.5" width="37" height="83.3" fill="#828282"/>
<rect x="376.5" y="3414.4" width="42.8" height="11.5" fill="#333333"/>
<rect x="474.3" y="3332.9" width="5.7" height="143.4" fill="#333333"/>
<rect x="474.3" y="3622.7" width="5.7" height="87.5" fill="#333333"/>
<rect x="452.8" y="3473.4" width="48.6" height="152.2" rx="2" fill="#333333"/>
<rect x="458.6" y="3479.3" width="37" height="140.4" fill="#cccccc"/>
<rect x="455.7" y="3544.2" width="42.8" height="11.5" fill="#333333"/>
<rect x="521.8" y="3225" width="5.7" height="88.3" fill="#333333"/>
<rect x="521.8" y="3493.8" width="5.7" height="102" fill="#333333"/>
<rect x="500.4" y="3310.4" width="48.6" height="186.3" rx="2" fill="#333333"/>
<rect x="506.2" y="3316.3" width="37" height="174.5" fill="#828282"/>
<rect x="503.3" y="3373.3" width="42.8" height="11.5" fill="#333333"/>
<circle cx="603.9" cy="3417.9" r="9.5" fill="#cccccc"/>
<circle cx="603.9" cy="3640.4" r="9.5" fill="#cccccc"/>
<rect x="601.1" y="3442.4" width="5.7" height="40.5" fill="#333333"/>
<rect x="601.1" y="3519.8" width="5.7" height="41.1" fill="#333333"/>
<rect x="579.6" y="3480" width="48.6" height="42.7" rx="2" fill="#333333"/>
<rect x="585.4" y="3485.9" width="37" height="30.9" fill="#cccccc"/>
<rect x="582.5" y="3494.1" width="42.8" height="11.5" fill="#333333"/>
<rect x="648.6" y="3267.7" width="5.7" height="98.1" fill="#333333"/>
<rect x="648.6" y="3435.6" width="5.7" height="41.8" fill="#333333"/>
<rect x="627.2" y="3362.8" width="48.6" height="75.7" rx="2" fill="#333333"/>
<rect x="633" y="3368.7" width="37" height="63.9" fill="#828282"/>
<rect x="630.1" y="3405.6" width="42.8" height="11.5" fill="#333333"/>
<rect x="727.9" y="3442.8" width="5.7" height="18.1" fill="#333333"/>
<rect x="727.9" y="3543.5" width="5.7" height="95" fill="#333333"/>
<rect x="706.4" y="3458" width="48.6" height="88.4" rx="2" fill="#333333"/>
<rect x="712.2" y="3463.9" width="37" height="76.6" fill="#cccccc"/>
<rect x="709.3" y="3466.2" width="42.8" height="11.5" fill="#333333"/>
<rect x="775.4" y="3258" width="5.7" height="89.1" fill="#333333"/>
<rect x="775.4" y="3423.2" width="5.7" height="80.5" fill="#333333"/>
<rect x="754" y="3344.2" width="48.6" height="81.9" rx="2" fill="#333333"/>
<rect x="759.8" y="3350.1" width="37" height="70.1" fill="#828282"/>
<rect x="756.9" y="3368.7" width="42.8" height="11.5" fill="#333333"/>
<circle cx="857.5" cy="3793.7" r="9.5" fill="#cccccc"/>
<rect x="854.7" y="3362" width="5.7" height="40.6" fill="#333333"/>
<rect x="854.7" y="3528" width="5.7" height="36.7" fill="#333333"/>
<rect x="833.2" y="3399.7" width="48.6" height="131.2" rx="2" fill="#333333"/>
<rect x="839" y="3405.6" width="37" height="119.4" fill="#cccccc"/>
<rect x="836.1" y="3427.7" width="42.8" height="11.5" fill="#333333"/>
<rect x="902.2" y="3307.7" width="5.7" height="50.2" fill="#333333"/>
<rect x="902.2" y="3442.6" width="5.7" height="51" fill="#333333"/>
<rect x="880.8" y="3355" width="48.6" height="90.5" rx="2" fill="#333333"/>
<rect x="886.6" y="3360.9" width="37" height="78.7" fill="#828282"/>
<rect x="883.7" y="3391.9" width="42.8" height="11.5" fill="#333333"/>
<circle cx="984.3" cy="3754.9" r="9.5" fill="#cccccc"/>
<rect x="981.5" y="3417.1" width="5.7" height="65.8" fill="#333333"/>
<rect x="981.5" y="3576.1" width="5.7" height="41" fill="#333333"/>
<rect x="960" y="3480" width="48.6" height="99" rx="2" fill="#333333"/>
<rect x="965.8" y="3485.9" width="37" height="87.2" fill="#cccccc"/>
<rect x="962.9" y="3516.2" width="42.8" height="11.5" fill="#333333"/>
<rect x="1029" y="3377.2" width="5.7" height="51.4" fill="#333333"/>
<rect x="1029" y="3505.5" width="5.7" height="49.5" fill="#333333"/>
<rect x="1007.6" y="3425.7" width="48.6" height="82.7" rx="2" fill="#333333"/>
<rect x="1013.4" y="3431.6" width="37" height="70.9" fill="#828282"/>
<rect x="1010.5" y="3471.6" width="42.8" height="11.5" fill="#333333"/>
<rect x="1108.3" y="3115.5" width="5.7" height="140.3" fill="#333333"/>
<rect x="1108.3" y="3827.7" width="5.7" height="123" fill="#333333"/>
<rect x="1086.8" y="3252.9" width="48.6" height="577.7" rx="2" fill="#333333"/>
<rect x="1092.6" y="3258.8" width="37" height="565.9" fill="#cccccc"/>
<rect x="1089.7" y="3550.3" width="42.8" height="11.5" fill="#333333"/>
<rect x="1155.8" y="3240.5" width="5.7" height="30.1" fill="#333333"/>
<rect x="1155.8" y="3897.9" width="5.7" height="82" fill="#333333"/>
<rect x="1134.4" y="3267.7" width="48.6" height="633.1" rx="2" fill="#333333"/>
<rect x="1140.2" y="3273.6" width="37" height="621.3" fill="#828282"/>
<rect x="1137.3" y="3731.7" width="42.8" height="11.5" fill="#333333"/>
<rect x="1235.1" y="3461.8" width="5.7" height="37.8" fill="#333333"/>
<rect x="1235.1" y="3580" width="5.7" height="69" fill="#333333"/>
<rect x="1213.6" y="3496.7" width="48.6" height="86.2" rx="2" fill="#333333"/>
<rect x="1219.4" y="3502.6" width="37" height="74.4" fill="#cccccc"/>
<rect x="1216.5" y="3527.8" width="42.8" height="11.5" fill="#333333"/>
<rect x="1282.6" y="3350.4" width="5.7" height="73.5" fill="#333333"/>
<rect x="1282.6" y="3507.4" width="5.7" height="116.3" fill="#333333"/>
<rect x="1261.2" y="3421" width="48.6" height="89.3" rx="2" fill="#333333"/>
<rect x="1267" y="3426.9" width="37" height="77.5" fill="#828282"/>
<rect x="1264.1" y="3470.8" width="42.8" height="11.5" fill="#333333"/>
<rect x="1361.9" y="3376.4" width="5.7" height="79.8" fill="#333333"/>
<rect x="1361.9" y="3623.1" width="5.7" height="226.1" fill="#333333"/>
<rect x="1340.4" y="3453.3" width="48.6" height="172.7" rx="2" fill="#333333"/>
<rect x="1346.2" y="3459.2" width="37" height="160.9" fill="#cccccc"/>
<rect x="1343.3" y="3494.1" width="42.8" height="11.5" fill="#333333"/>
<rect x="1409.4" y="3315" width="5.7" height="66.2" fill="#333333"/>
<rect x="1409.4" y="3466.6" width="5.7" height="131.1" fill="#333333"/>
<rect x="1388" y="3378.3" width="48.6" height="91.2" rx="2" fill="#333333"/>
<rect x="1393.8" y="3384.2" width="37" height="79.4" fill="#828282"/>
<rect x="1390.9" y="3428.1" width="42.8" height="11.5" fill="#333333"/>
<rect x="1488.7" y="3430" width="5.7" height="18.4" fill="#333333"/>
<rect x="1488.7" y="3487.2" width="5.7" height="33.7" fill="#333333"/>
<rect x="1467.2" y="3445.5" width="48.6" height="44.6" rx="2" fill="#333333"/>
<rect x="1473" y="3451.4" width="37" height="32.8" fill="#cccccc"/>
<rect x="1470.1" y="3454.1" width="42.8" height="11.5" fill="#333333"/>
<rect x="1536.2" y="3279.3" width="5.7" height="61.9" fill="#333333"/>
<rect x="1536.2" y="3416.2" width="5.7" height="111.7" fill="#333333"/>
<rect x="1514.8" y="3338.3" width="48.6" height="80.8" rx="2" fill="#333333"/>
<rect x="1520.6" y="3344.2" width="37" height="69" fill="#828282"/>
<rect x="1517.7" y="3362.8" width="42.8" height="11.5" fill="#333333"/>
<circle cx="1618.3" cy="3873.3" r="9.5" fill="#cccccc"/>
<rect x="1615.5" y="3390" width="5.7" height="48.3" fill="#333333"/>
<rect x="1615.5" y="3578.5" width="5.7" height="15.4" fill="#333333"/>
<rect x="1594" y="3435.4" width="48.6" height="146" rx="2" fill="#333333"/>
<rect x="1599.8" y="3441.3" width="37" height="134.2" fill="#cccccc"/>
<rect x="1596.9" y="3553.1" width="42.8" height="11.5" fill="#333333"/>
<rect x="1663" y="3426.9" width="5.7" height="43.6" fill="#333333"/>
<rect x="1663" y="3587" width="5.7" height="47.5" fill="#333333"/>
<rect x="1641.6" y="3467.6" width="48.6" height="122.3" rx="2" fill="#333333"/>
<rect x="1647.4" y="3473.5" width="37" height="110.5" fill="#828282"/>
<rect x="1644.5" y="3541.4" width="42.8" height="11.5" fill="#333333"/>
<circle cx="1745.1" cy="3854.6" r="9.5" fill="#cccccc"/>
<rect x="1742.3" y="3383" width="5.7" height="65.4" fill="#333333"/>
<rect x="1742.3" y="3595.5" width="5.7" height="129.1" fill="#333333"/>
<rect x="1720.8" y="3445.5" width="48.6" height="152.9" rx="2" fill="#333333"/>
<rect x="1726.6" y="3451.4" width="37" height="141.1" fill="#cccccc"/>
<rect x="1723.7" y="3467.7" width="42.8" height="11.5" fill="#333333"/>
<rect x="1789.8" y="3225" width="5.7" height="79.4" fill="#333333"/>
<rect x="1789.8" y="3389" width="5.7" height="38.6" fill="#333333"/>
<rect x="1768.4" y="3301.5" width="48.6" height="90.4" rx="2" fill="#333333"/>
<rect x="1774.2" y="3307.4" width="37" height="78.6" fill="#828282"/>
<rect x="1771.3" y="3336.4" width="42.8" height="11.5" fill="#333333"/>
<rect x="168.1" y="3072" width="5.9" height="951.8" fill="#000"/>
<rect x="171" y="4020" width="1674" height="6.9" fill="#000"/>
<g fill="#4d4d4d" stroke="#4d4d4d" stroke-width="0.8" font-size="45.7" text-anchor="end"><text x="154" y="3285.6">5</text><text x="154" y="3558.2">0</text><text x="154" y="3830.9">−5</text></g>
<g fill="#4d4d4d" stroke="#4d4d4d" stroke-width="0.8" font-size="44" text-anchor="end"><text transform="translate(274.9 4056.7) rotate(-60)">miR−9−5p</text><text transform="translate(401.7 4056.7) rotate(-60)">miR−16−5p</text><text transform="translate(528.5 4056.7) rotate(-60)">miR−19a−3p</text><text transform="translate(655.3 4056.7) rotate(-60)">miR−22−3p</text><text transform="translate(782.1 4056.7) rotate(-60)">miR−29c−3p</text><text transform="translate(908.9 4056.7) rotate(-60)">miR−30e−5p</text><text transform="translate(1035.7 4056.7) rotate(-60)">miR−34a−5p</text><text transform="translate(1162.5 4056.7) rotate(-60)">miR−98−5p</text><text transform="translate(1289.3 4056.7) rotate(-60)">miR−125b−5p</text><text transform="translate(1416.1 4056.7) rotate(-60)">miR−146a−5p</text><text transform="translate(1542.9 4056.7) rotate(-60)">miR−181c−5p</text><text transform="translate(1669.7 4056.7) rotate(-60)">miR−320a−3p</text><text transform="translate(1796.5 4056.7) rotate(-60)">miR−338−3p</text></g>
<g fill="#000" font-size="46" font-weight="bold" text-anchor="middle"><text x="247.3" y="3116">*</text><text x="374.1" y="3116">*</text><text x="500.9" y="3116">*</text><text x="627.7" y="3116">**</text><text x="754.5" y="3116">**</text><text x="1515.3" y="3116">*</text><text x="1768.9" y="3116">**</text></g>
<rect x="1934" y="3499.8" width="5.7" height="10.7" fill="#333333"/>
<rect x="1934" y="3541.2" width="5.7" height="9.9" fill="#333333"/>
<rect x="1911" y="3507.6" width="51.6" height="36.5" rx="2" fill="#333333"/>
<rect x="1916.8" y="3513.5" width="40" height="24.7" fill="#cccccc"/>
<rect x="1913.9" y="3522.6" width="45.8" height="6.4" fill="#333333"/>
<text transform="translate(1988.6 3537.5) scale(1.0 1)" font-size="32.5" fill="#000" stroke="#000" stroke-width="0.8">WTCT</text>
<rect x="1934" y="3562.7" width="5.7" height="10.8" fill="#333333"/>
<rect x="1934" y="3604.5" width="5.7" height="9.9" fill="#333333"/>
<rect x="1911" y="3570.5" width="51.6" height="36.9" rx="2" fill="#333333"/>
<rect x="1916.8" y="3576.4" width="40" height="25.1" fill="#828282"/>
<rect x="1913.9" y="3585.5" width="45.8" height="6.4" fill="#333333"/>
<text transform="translate(1988.6 3600.8) scale(1.0 1)" font-size="32.5" fill="#000" stroke="#000" stroke-width="0.8">APPCT</text>
<text transform="translate(33 84.2) scale(1.0 1)" font-size="62.4" font-weight="bold" stroke="#000" stroke-width="1.2">A</text>
<text transform="translate(33.8 1567.4) scale(0.97 1)" font-size="62.2" font-weight="bold" stroke="#000" stroke-width="1.2">B</text>
<text transform="translate(38.5 3022) scale(0.95 1)" font-size="65.0" font-weight="bold" stroke="#000" stroke-width="1.2">C</text>
<text transform="translate(974.5 82.6) scale(0.924 1)" font-size="74.4" font-weight="bold" stroke="#000" stroke-width="1.2" text-anchor="middle">Serum</text>
<text transform="translate(981 1566.3) scale(0.955 1)" font-size="72.0" font-weight="bold" stroke="#000" stroke-width="1.2" text-anchor="middle">Cortex</text>
<text transform="translate(1013.7 3006) scale(0.975 1)" font-size="70.5" font-weight="bold" stroke="#000" stroke-width="1.2" text-anchor="middle">Hippocampus</text>
<text transform="translate(63.6 628.5) rotate(-90)" font-size="37.0" font-weight="bold" stroke="#000" stroke-width="1.2" text-anchor="middle">log2 fold change (log2FC)</text>
<text transform="translate(48.6 2095.2) rotate(-90)" font-size="37.3" font-weight="bold" stroke="#000" stroke-width="1.2" text-anchor="middle">log2 fold change (log2FC)</text>
<text transform="translate(85.3 3547) rotate(-90)" font-size="36.4" font-weight="bold" stroke="#000" stroke-width="1.2" text-anchor="middle">log2 fold change (log2FC)</text>
</svg>
</body></html>
